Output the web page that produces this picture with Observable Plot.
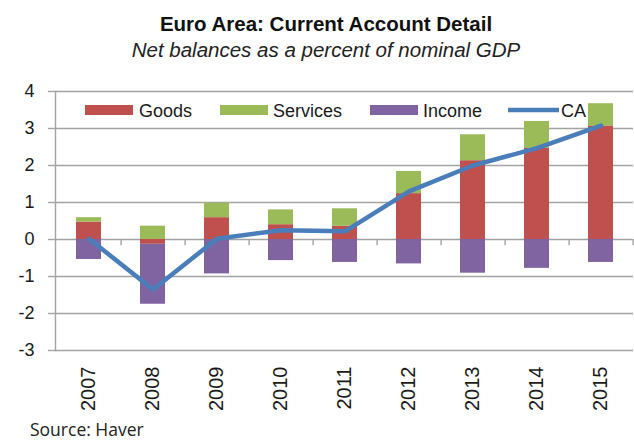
<!DOCTYPE html>
<html>
<head>
<meta charset="utf-8">
<script src="https://cdn.jsdelivr.net/npm/d3@7"></script>
<script src="https://cdn.jsdelivr.net/npm/@observablehq/plot@0.6"></script>
<style>
  html, body { margin: 0; padding: 0; background: #fff; }
  #wrap { position: relative; width: 634px; height: 443px; overflow: hidden; background: #fff; }
  #wrap > svg { position: absolute; left: 0; top: 0; }
</style>
</head>
<body>
<div id="wrap"></div>
<script>
// ---- data ----
const years = ["2007","2008","2009","2010","2011","2012","2013","2014","2015"];
const goods    = [0.47, -0.13, 0.59, 0.40, 0.36, 1.24, 2.13, 2.46, 3.07];
const services = [0.12,  0.36, 0.39, 0.40, 0.47, 0.60, 0.70, 0.73, 0.60];
const income   = [-0.54, -1.62, -0.93, -0.57, -0.62, -0.66, -0.91, -0.78, -0.62];
const ca       = [0.02, -1.35, 0.02, 0.25, 0.22, 1.30, 2.00, 2.47, 3.08];
const yTicks   = [-3, -2, -1, 0, 1, 2, 3, 4];
const seriesNames = ["Goods", "Services", "Income"];
const seriesColors = ["#C0504D", "#9BBB59", "#8064A2"];
const lineName = "CA";
const lineColor = "#4A7EBB";
const titleText = "Euro Area: Current Account Detail";
const subtitleText = "Net balances as a percent of nominal GDP";
const sourceText = "Source: Haver";

// ---- layout ----
const W = 634, H = 443;
const mL = 55, mR = 1, mT = 91, mB = 93;
const step = (W - mL - mR) / years.length;
const gridColor = "#a3a3a3";

const rows = [];
years.forEach((y, i) => {
  rows.push({year: y, series: "Goods", value: goods[i]});
  rows.push({year: y, series: "Services", value: services[i]});
  rows.push({year: y, series: "Income", value: income[i]});
});
const caRows = years.map((y, i) => ({year: y, value: ca[i]}));

const chart = Plot.plot({
  width: W, height: H,
  marginLeft: mL, marginRight: mR, marginTop: mT, marginBottom: mB,
  style: {fontFamily: "'Liberation Sans', Arial, sans-serif", fontSize: "18px", color: "#1a1a1a", background: "transparent"},
  x: {domain: years, paddingInner: 0.61, paddingOuter: 0.305, axis: null},
  y: {domain: [-3, 4], axis: null},
  color: {domain: seriesNames, range: seriesColors},
  marks: [
    Plot.ruleY(yTicks, {stroke: gridColor, strokeWidth: 1.4}),
    Plot.frame({anchor: "left", stroke: gridColor, strokeWidth: 1.4}),
    Plot.axisY({ticks: yTicks, tickSize: 7, tickPadding: 14, tickFormat: d => String(d), label: null,
                stroke: gridColor, strokeWidth: 1.4, fontSize: 18}),
    Plot.axisX({tickRotate: -90, tickSize: 0, tickPadding: 16, label: null, fontSize: 20}),
    Plot.barY(rows, {x: "year", y: "value", fill: "series"}),
    Plot.ruleX(years, {x: d => d, y1: 0, y2: -0.17, dx: step / 2, stroke: gridColor, strokeWidth: 1.4}),
    Plot.lineY(caRows, {x: "year", y: "value", stroke: lineColor, strokeWidth: 4.5, strokeLinejoin: "round", strokeLinecap: "round"})
  ]
});
document.getElementById("wrap").appendChild(chart);

// ---- title, subtitle, legend, source overlay ----
const ov = d3.select("#wrap").append("svg").attr("width", W).attr("height", H)
  .style("font-family", "'Liberation Sans', Arial, sans-serif");
ov.append("text").attr("x", 326).attr("y", 30.7).attr("text-anchor", "middle")
  .attr("font-size", 20.5).attr("font-weight", "bold").attr("fill", "#111").text(titleText);
ov.append("text").attr("x", 326).attr("y", 56.7).attr("text-anchor", "middle")
  .attr("font-size", 20.5).attr("font-style", "italic").attr("fill", "#222").text(subtitleText);

const legendItems = [
  {name: seriesNames[0], color: seriesColors[0], sx: 85, tx: 139, type: "rect"},
  {name: seriesNames[1], color: seriesColors[1], sx: 220, tx: 273, type: "rect"},
  {name: seriesNames[2], color: seriesColors[2], sx: 370, tx: 423, type: "rect"},
  {name: lineName, color: lineColor, sx: 508, tx: 561, type: "line"}
];
legendItems.forEach(it => {
  if (it.type === "rect") {
    ov.append("rect").attr("x", it.sx).attr("y", 105).attr("width", 48).attr("height", 10).attr("fill", it.color);
  } else {
    ov.append("line").attr("x1", it.sx).attr("x2", it.sx + 51).attr("y1", 110).attr("y2", 110)
      .attr("stroke", it.color).attr("stroke-width", 4.5);
  }
  ov.append("text").attr("x", it.tx).attr("y", 116.5).attr("font-size", 18).attr("fill", "#1a1a1a").text(it.name);
});

ov.append("text").attr("x", 30).attr("y", 436).attr("font-size", 17.5)
  .attr("font-family", "'Open Sans', sans-serif").attr("fill", "#222").text(sourceText);
</script>
</body>
</html>
